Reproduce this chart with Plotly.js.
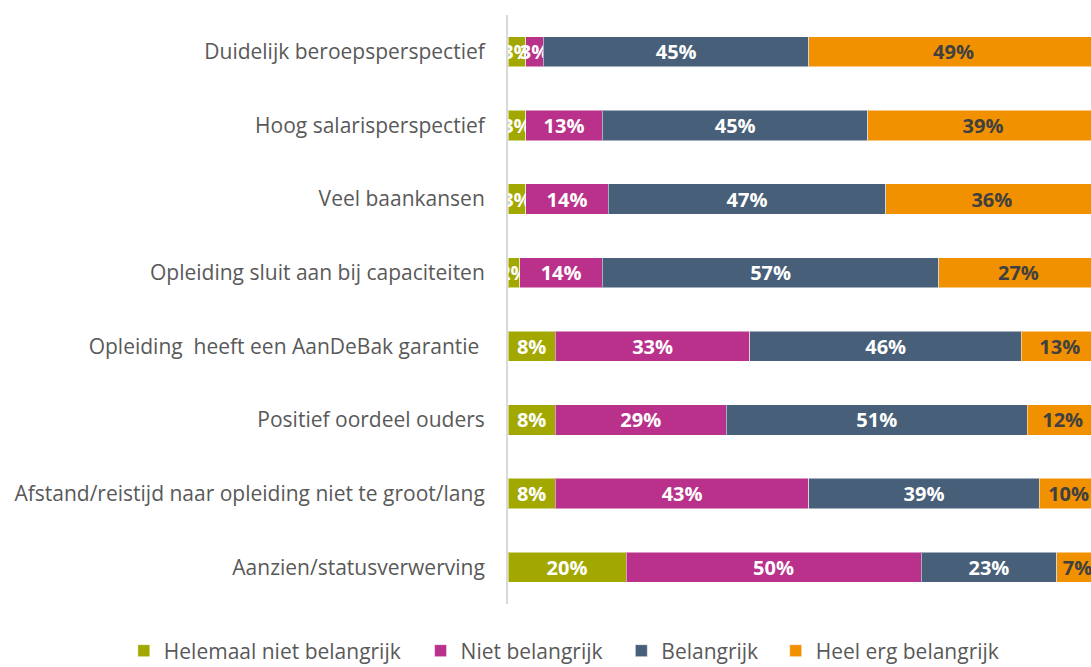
<!DOCTYPE html>
<html>
<head>
<meta charset="utf-8">
<script src="https://cdn.plot.ly/plotly-3.0.1.min.js"></script>
<style>html,body{margin:0;padding:0;background:#fff;}#chart{width:1091px;height:667px;}</style>
</head>
<body>
<div id="chart"></div>
<script>
const categories = [
  "Duidelijk beroepsperspectief",
  "Hoog salarisperspectief",
  "Veel baankansen",
  "Opleiding sluit aan bij capaciteiten",
  "Opleiding  heeft een AanDeBak garantie\u00a0",
  "Positief oordeel ouders",
  "Afstand/reistijd naar opleiding niet te groot/lang",
  "Aanzien/statusverwerving"
];
const seriesNames = ["Helemaal niet belangrijk", "Niet belangrijk", "Belangrijk", "Heel erg belangrijk"];
const helemaalNiet = [3, 3, 3, 2, 8, 8, 8, 20];
const niet = [3, 13, 14, 14, 33, 29, 43, 50];
const belangrijk = [45, 45, 47, 57, 46, 51, 39, 23];
const heelErg = [49, 39, 36, 27, 13, 12, 10, 7];

const colors = ["#A3A800", "#B9318A", "#475F79", "#F29100"];
const textColors = ["#FFFFFF", "#FFFFFF", "#FFFFFF", "#404040"];
const values = [helemaalNiet, niet, belangrijk, heelErg];
const legendIds = ["legend", "legend2", "legend3", "legend4"];
const legendX = [0.1135, 0.3855, 0.5695, 0.711];

const traces = values.map((v, i) => ({
  type: "bar",
  orientation: "h",
  name: seriesNames[i],
  legend: legendIds[i],
  y: categories,
  x: v,
  text: v.map(d => d + "%"),
  textposition: "inside",
  insidetextanchor: "middle",
  constraintext: "none",
  textangle: 0,
  textfont: {family: "Open Sans, sans-serif", size: 20, color: textColors[i], weight: "bold"},
  marker: {color: colors[i], line: {color: "rgba(255,255,255,0.5)", width: 1}},
  hoverinfo: "none"
}));

const layout = {
  width: 1091,
  height: 667,
  barmode: "stack",
  bargap: 0.59,
  margin: {l: 508, r: 0, t: 15, b: 63},
  paper_bgcolor: "#FFFFFF",
  plot_bgcolor: "#FFFFFF",
  showlegend: true,
  xaxis: {
    range: [0, 98.8],
    showgrid: false, zeroline: false, showticklabels: false, showline: false, ticks: "",
    fixedrange: true
  },
  yaxis: {
    type: "category",
    categoryorder: "array",
    categoryarray: categories.slice().reverse(),
    range: [-0.5, 7.5],
    showgrid: false, zeroline: false,
    showline: true, linecolor: "#D9D9D9", linewidth: 2,
    ticks: "", ticklabelstandoff: 17,
    tickfont: {family: "Open Sans, sans-serif", size: 21, color: "#595959"},
    fixedrange: true
  }
};
legendIds.forEach((id, i) => {
  layout[id] = {
    orientation: "h",
    xref: "container", yref: "container",
    x: legendX[i], xanchor: "left",
    y: 0.024, yanchor: "middle",
    font: {family: "Open Sans, sans-serif", size: 21, color: "#595959"},
    bgcolor: "rgba(0,0,0,0)",
    itemwidth: 30
  };
});

Plotly.newPlot("chart", traces, layout, {displayModeBar: false, staticPlot: true});
</script>
</body>
</html>
